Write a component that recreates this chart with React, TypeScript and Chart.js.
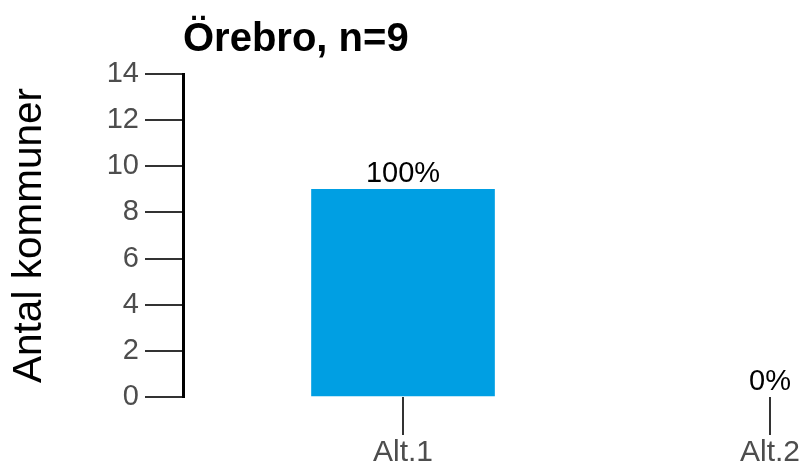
import React, { useEffect, useRef } from "react";
import { Chart, registerables } from "chart.js";

Chart.register(...registerables);

const titleText = "Örebro, n=9";
const yAxisTitle = "Antal kommuner";
const categories = ["Alt.1", "Alt.2"];
const values = [9, 0];
const yTicksMin = 0;
const yTicksMax = 14;
const yTicksStep = 2;

const FONT = "'Liberation Sans', Arial, sans-serif";
const BAR_COLOR = "#009FE3";

const valueLabelPlugin = {
  id: "valueLabels",
  afterDatasetsDraw(chart: any) {
    const ctx = chart.ctx;
    const total = values.reduce((a, b) => a + b, 0);
    const meta = chart.getDatasetMeta(0);
    ctx.save();
    ctx.font = `29px ${FONT}`;
    ctx.fillStyle = "#000000";
    ctx.textAlign = "center";
    ctx.textBaseline = "alphabetic";
    meta.data.forEach((el: any, i: number) => {
      const pct = total ? Math.round((values[i] / total) * 100) : 0;
      ctx.fillText(`${pct}%`, el.x, el.y - 7);
    });
    ctx.restore();
  },
};

export default function App() {
  const ref = useRef<HTMLCanvasElement | null>(null);

  useEffect(() => {
    if (!ref.current) return;
    const chart = new Chart(ref.current, {
      type: "bar",
      data: {
        datasets: [
          {
            data: values.map((v, i) => ({ x: i, y: v })),
            backgroundColor: (c: any) => (c.raw && c.raw.y === 0 ? "rgba(0,0,0,0)" : BAR_COLOR),
            borderWidth: 0,
            barThickness: 183,
          },
        ],
      },
      options: {
        responsive: false,
        animation: false,
        layout: { padding: { top: 0, left: 0, right: 2, bottom: 0 } },
        plugins: {
          legend: { display: false },
          tooltip: { enabled: false },
          title: {
            display: true,
            text: titleText,
            align: "start",
            fullSize: false,
            color: "#000000",
            font: { family: FONT, size: 40, weight: "bold" },
            padding: { top: 15.5, bottom: 10.5 },
          },
        },
        scales: {
          x: {
            type: "linear",
            offset: false,
            min: -0.5995,
            max: 1.0899,
            afterBuildTicks: (scale: any) => {
              scale.ticks = categories.map((_, i) => ({ value: i }));
            },
            ticks: {
              callback: (v: any) => categories[v as number] ?? "",
              color: "#4D4D4D",
              font: { family: FONT, size: 30 },
              padding: 0,
              maxRotation: 0,
              autoSkip: false,
            },
            grid: {
              offset: false,
              drawOnChartArea: false,
              drawTicks: true,
              tickLength: 38,
              tickColor: "#333333",
              lineWidth: 2,
            },
            border: { display: false },
          },
          y: {
            min: yTicksMin,
            max: yTicksMax,
            afterFit: (scale: any) => {
              scale.width = 183;
            },
            ticks: {
              stepSize: yTicksStep,
              color: "#4D4D4D",
              font: { family: FONT, size: 29 },
              padding: 6,
            },
            grid: {
              drawOnChartArea: false,
              drawTicks: true,
              tickLength: 38,
              tickColor: "#333333",
              lineWidth: 2,
            },
            border: { display: true, color: "#000000", width: 3 },
            title: {
              display: true,
              text: yAxisTitle,
              color: "#000000",
              font: { family: FONT, size: 40.5 },
              padding: { top: 6, bottom: 0 },
            },
          },
        },
      },
      plugins: [valueLabelPlugin],
    });
    return () => chart.destroy();
  }, []);

  return (
    <div style={{ position: "absolute", left: 0, top: 0, width: 805, height: 471 }}>
      <canvas ref={ref} width={805} height={471} />
    </div>
  );
}
